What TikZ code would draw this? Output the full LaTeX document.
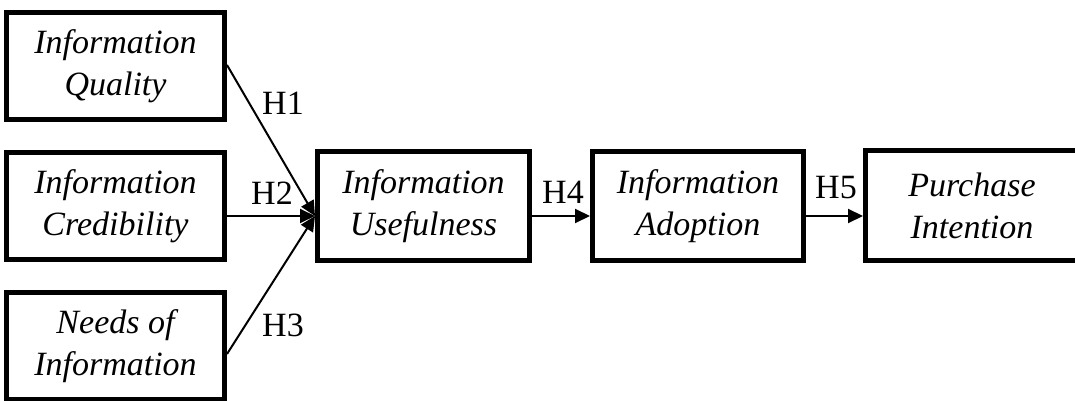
\documentclass[tikz,border=0pt]{standalone}
\usepackage{fontspec}
\setmainfont{Liberation Serif}
\usetikzlibrary{arrows.meta}
\begin{document}
\begin{tikzpicture}[x=1pt,y=-1pt,
  box/.style={draw=black,line width=5pt,fill=white,align=center,inner sep=0pt,
    font=\fontsize{34}{42}\selectfont\itshape},
  lbl/.style={font=\fontsize{34}{38}\selectfont,inner sep=0pt},
  conn/.style={line width=2pt,-{Triangle[length=15pt,width=14pt]}}]
\useasboundingbox (0,0) rectangle (1075,401);
\node[box,minimum width=218pt,minimum height=107pt] (iq) at (115.5,66) {Information\\Quality};
\node[box,minimum width=218pt,minimum height=107pt] (ic) at (115.5,206) {Information\\Credibility};
\node[box,minimum width=218pt,minimum height=107pt] (ni) at (115.5,346) {Needs of\\Information};
\node[box,minimum width=212pt,minimum height=109pt] (iu) at (423.5,206) {Information\\Usefulness};
\node[box,minimum width=211pt,minimum height=109pt] (ia) at (698,206) {Information\\Adoption};
\node[box,minimum width=213pt,minimum height=110pt] (pi) at (972,205.5) {Purchase\\Intention};
\coordinate (t) at (iu.west |- 0,216);
\draw[conn] (iq.east |- 0,65) -- (t);
\draw[conn] (ic.east |- 0,216) -- (t);
\draw[conn] (ni.east |- 0,354) -- (t);
\draw[conn] (iu.east |- 0,216) -- (ia.west |- 0,216);
\draw[conn] (ia.east |- 0,216) -- (pi.west |- 0,216);
\node[lbl] (h1) at (283,103) {H1};
\node[lbl] (h2) at (272,193) {H2};
\node[lbl] (h3) at (283,325) {H3};
\node[lbl] (h4) at (563,192) {H4};
\node[lbl] (h5) at (836,188) {H5};
\end{tikzpicture}
\end{document}
